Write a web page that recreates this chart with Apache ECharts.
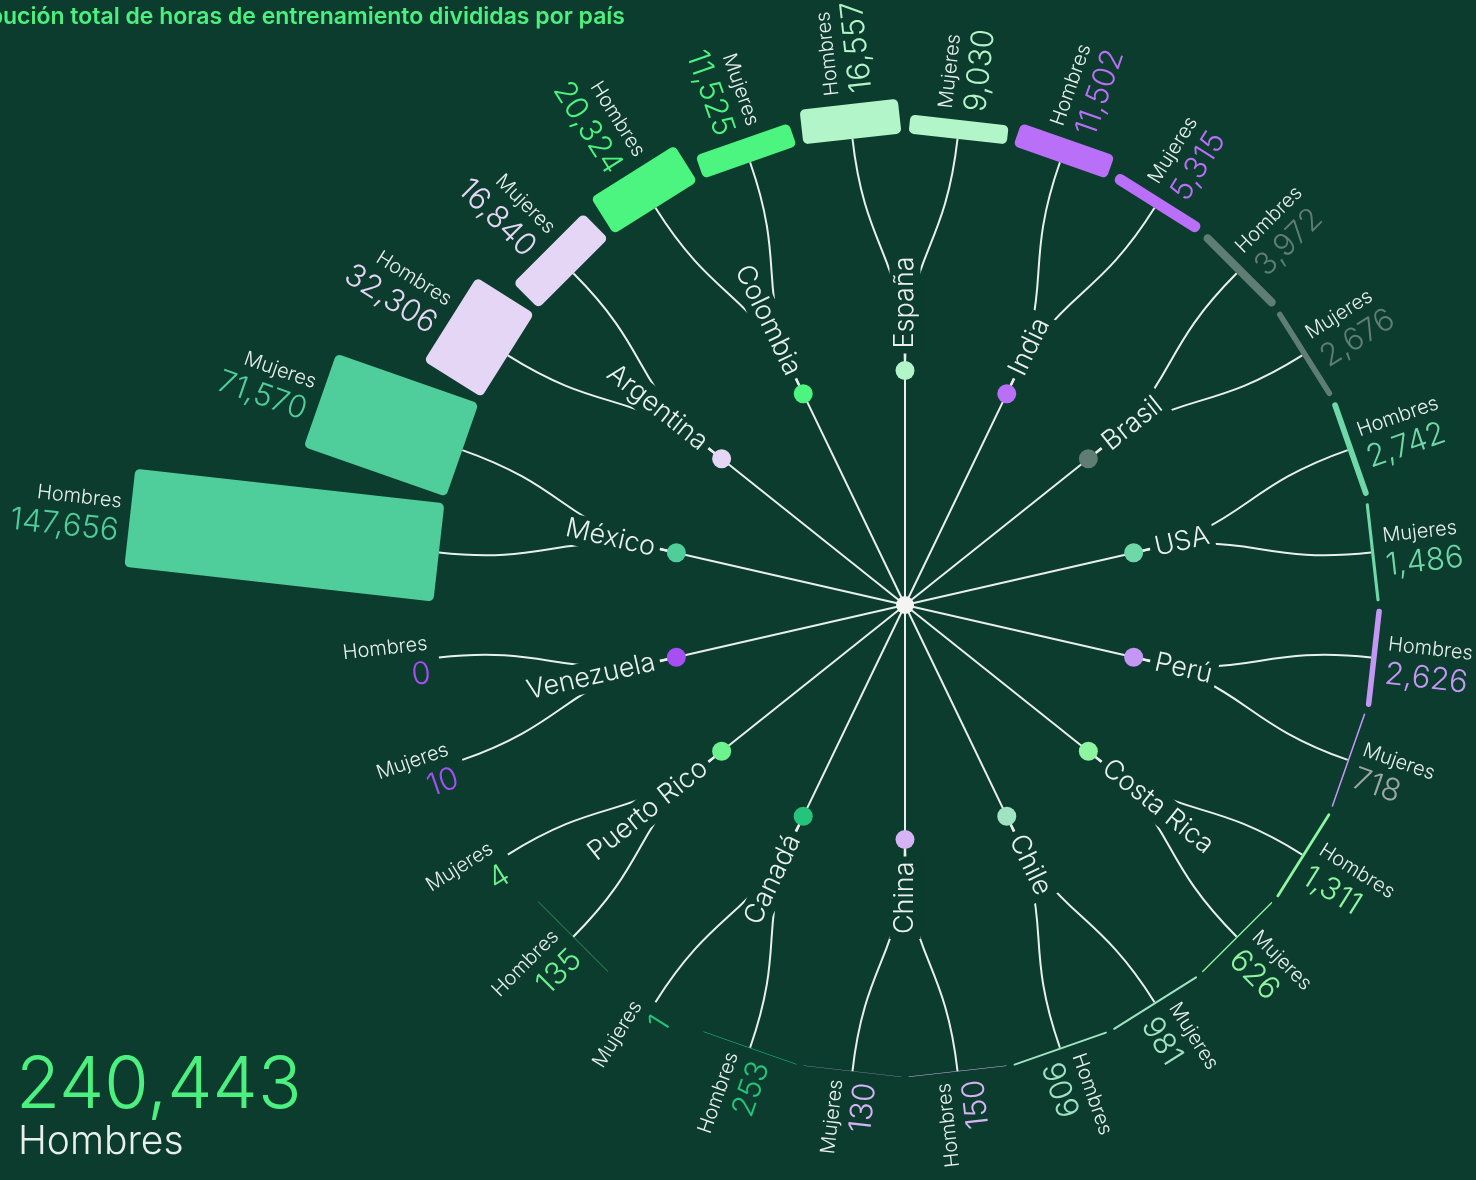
<!DOCTYPE html>
<html lang="es">
<head>
<meta charset="UTF-8">
<title>Distribución total de horas de entrenamiento divididas por país</title>
<script src="https://cdn.jsdelivr.net/npm/echarts@6/dist/echarts.min.js"></script>
<style>
  html, body { margin: 0; padding: 0; background: #0b3c2e; }
  #main { width: 1476px; height: 1180px; }
</style>
</head>
<body>
<div id="main"></div>
<script>
// países ordenados por total de horas (empieza a las 9 en punto, sentido horario)
var paises = ['México', 'Argentina', 'Colombia', 'España', 'India', 'Brasil', 'USA', 'Perú',
              'Costa Rica', 'Chile', 'China', 'Canadá', 'Puerto Rico', 'Venezuela'];
var hombres = [147656, 32306, 20324, 16557, 11502, 3972, 2742, 2626, 1311, 909, 150, 253, 135, 0];
var mujeres = [71570, 16840, 11525, 9030, 5315, 2676, 1486, 718, 626, 981, 130, 1, 4, 10];

// colores por país
var colores = ['#4fce9b', '#e6d6f5', '#4cf57f', '#b2f5c8', '#b96ff7', '#5f7d72', '#6fd8a9',
               '#c497f5', '#8ef5a0', '#a0e3c3', '#d6b3f5', '#25c47d', '#6cf38f', '#a54ff5'];
var fondo = '#0b3c2e';
var blanco = '#e9f0eb';
var fuente = 'Inter, "Noto Sans", sans-serif';

// dos segmentos por país, el mayor primero
var segmentos = [];
paises.forEach(function (p, i) {
    var par = [{ genero: 'Hombres', valor: hombres[i] }, { genero: 'Mujeres', valor: mujeres[i] }];
    if (par[1].valor > par[0].valor) par.reverse();
    par.forEach(function (s) { s.pais = i; segmentos.push(s); });
});
var categorias = segmentos.map(function (s) { return paises[s.pais] + ' ' + s.genero; });

function fmt(n) { return n.toLocaleString('en-US'); }

function punto(cx, cy, r, ang) {
    return [cx + r * Math.cos(ang), cy - r * Math.sin(ang)];
}

// texto radial: se voltea en la mitad izquierda para que se pueda leer
function girar(ang) {
    var reloj = ((90 - ang * 180 / Math.PI) % 360 + 360) % 360;
    var voltear = reloj > 165 && reloj < 345;
    return { rotation: voltear ? ang - Math.PI : ang, align: voltear ? 'right' : 'left' };
}

function colorValor(s) {
    if (paises[s.pais] === 'Perú' && s.genero === 'Mujeres') return '#9ea6a2';
    return colores[s.pais];
}

function renderBarra(params, api) {
    var i = params.dataIndex;
    var s = segmentos[i];
    var base = api.coord([0, i]);
    var tope = api.coord([s.valor, i]);
    var otro = api.coord([0, i === 0 ? 1 : i - 1]);
    var ang = base[3];
    var r0 = base[2];
    var banda = Math.abs(otro[3] - ang);
    var ancho = 2 * r0 * Math.sin(banda / 2) * 0.94;
    var largo = tope[2] - r0;
    var g = girar(ang);
    var pt = punto(params.coordSys.cx, params.coordSys.cy, tope[2] + 10, ang);
    return {
        type: 'group',
        children: [
            {
                type: 'rect', x: base[0], y: base[1], rotation: ang,
                shape: { x: 0, y: -ancho / 2, width: largo, height: ancho, r: 5 },
                style: { fill: colores[s.pais] }
            },
            {
                type: 'text', x: pt[0], y: pt[1], rotation: g.rotation,
                style: {
                    text: '{g|' + s.genero + '}\n{v|' + fmt(s.valor) + '}',
                    align: g.align, verticalAlign: 'middle',
                    rich: {
                        g: { fontSize: 20, fontFamily: fuente, fontWeight: 300, fill: blanco, lineHeight: 30 },
                        v: { fontSize: 31, fontFamily: fuente, fontWeight: 300, fill: colorValor(s), lineHeight: 30 }
                    }
                }
            }
        ]
    };
}

function geoPais(params, api) {
    var c = params.dataIndex;
    var a = api.coord([0, 2 * c]);
    var b = api.coord([0, 2 * c + 1]);
    return {
        c: c, a: a, b: b, ang: (a[3] + b[3]) / 2, r0: a[2],
        cx: params.coordSys.cx, cy: params.coordSys.cy
    };
}

function renderLineas(params, api) {
    var p = geoPais(params, api);
    var rPunto = p.r0 * 0.5;
    var rm = (rPunto + p.r0) / 2;
    var ini = punto(p.cx, p.cy, rPunto, p.ang);
    var fin = punto(p.cx, p.cy, rPunto + 24, p.ang);
    var hijos = [{
        type: 'line',
        shape: { x1: p.cx, y1: p.cy, x2: fin[0], y2: fin[1] },
        style: { stroke: blanco, lineWidth: 2 }
    }];
    [p.a, p.b].forEach(function (seg) {
        var c1 = punto(p.cx, p.cy, rm, p.ang);
        var c2 = punto(p.cx, p.cy, rm, seg[3]);
        var t = punto(p.cx, p.cy, p.r0, seg[3]);
        hijos.push({
            type: 'bezierCurve',
            shape: { x1: ini[0], y1: ini[1], cpx1: c1[0], cpy1: c1[1], cpx2: c2[0], cpy2: c2[1], x2: t[0], y2: t[1] },
            style: { stroke: blanco, lineWidth: 2, fill: null }
        });
    });
    return { type: 'group', children: hijos };
}

function renderEtiqueta(params, api) {
    var p = geoPais(params, api);
    var g = girar(p.ang);
    var pt = punto(p.cx, p.cy, p.r0 * 0.5 + 17, p.ang);
    return {
        type: 'text', x: pt[0], y: pt[1], rotation: g.rotation,
        style: {
            text: paises[p.c], fill: blanco, fontSize: 27, fontFamily: fuente, fontWeight: 300,
            align: g.align, verticalAlign: 'middle',
            backgroundColor: fondo, padding: [2, 5]
        }
    };
}

function renderPunto(params, api) {
    var p = geoPais(params, api);
    var pt = punto(p.cx, p.cy, p.r0 * 0.5, p.ang);
    var hijos = [{ type: 'circle', shape: { cx: pt[0], cy: pt[1], r: 9.5 }, style: { fill: colores[p.c] } }];
    if (p.c === 0) {
        hijos.push({ type: 'circle', shape: { cx: p.cx, cy: p.cy, r: 9 }, style: { fill: '#f4f4f2' } });
    }
    return { type: 'group', children: hijos };
}

var totalHombres = hombres.reduce(function (a, b) { return a + b; }, 0);

var datosSeg = segmentos.map(function (s, i) { return [s.valor, i]; });
var datosPais = paises.map(function (p, c) { return [0, 2 * c]; });

var myChart = echarts.init(document.getElementById('main'), null, { renderer: 'canvas' });

var option = {
    backgroundColor: fondo,
    animation: false,
    polar: { center: [905, 605], radius: [0, 785] },
    angleAxis: {
        type: 'category', data: categorias, startAngle: 180, clockwise: true,
        boundaryGap: true, show: false
    },
    radiusAxis: { type: 'value', min: -222700, max: 150000, show: false },
    graphic: [
        {
            type: 'text', x: 625, y: 17,
            style: {
                text: 'Distribución total de horas de entrenamiento divididas por país',
                fill: '#4cf07f', font: '600 23px ' + fuente, align: 'right', verticalAlign: 'middle'
            }
        },
        {
            type: 'text', x: 16, y: 1086,
            style: { text: fmt(totalHombres), fill: '#4cf07f', font: '300 72px ' + fuente, verticalAlign: 'middle' }
        },
        {
            type: 'text', x: 18, y: 1142,
            style: { text: 'Hombres', fill: blanco, font: '300 39px ' + fuente, verticalAlign: 'middle' }
        }
    ],
    series: [
        { type: 'custom', coordinateSystem: 'polar', silent: true, z: 1, encode: { radius: 0, angle: 1 }, data: datosPais, renderItem: renderLineas },
        { type: 'custom', coordinateSystem: 'polar', silent: true, z: 2, encode: { radius: 0, angle: 1 }, data: datosPais, renderItem: renderEtiqueta },
        { type: 'custom', coordinateSystem: 'polar', silent: true, z: 3, encode: { radius: 0, angle: 1 }, data: datosPais, renderItem: renderPunto },
        { type: 'custom', coordinateSystem: 'polar', silent: true, z: 4, encode: { radius: 0, angle: 1 }, data: datosSeg, renderItem: renderBarra }
    ]
};

myChart.setOption(option);
</script>
</body>
</html>
